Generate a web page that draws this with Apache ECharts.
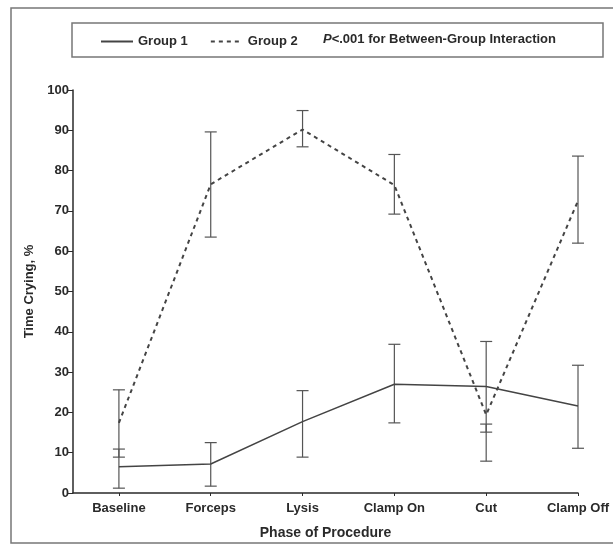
<!DOCTYPE html>
<html>
<head>
<meta charset="utf-8">
<script src="https://cdn.jsdelivr.net/npm/echarts@6/dist/echarts.min.js"></script>
<style>html,body{margin:0;padding:0;background:#fff}#c{width:613px;height:546px}</style>
</head>
<body>
<div id="c"></div>
<script>
const categories = ['Baseline', 'Forceps', 'Lysis', 'Clamp On', 'Cut', 'Clamp Off'];
const yTicks = [0, 10, 20, 30, 40, 50, 60, 70, 80, 90, 100];
const group1Mean = [6.5, 7.2, 17.7, 27.0, 26.4, 21.6];
const group1Low  = [1.2, 1.7, 8.9, 17.4, 15.1, 11.1];
const group1High = [10.9, 12.5, 25.4, 36.9, 37.6, 31.7];
const group2Mean = [17.4, 76.6, 90.2, 76.4, 19.4, 72.5];
const group2Low  = [8.9, 63.5, 85.9, 69.2, 7.9, 62.0];
const group2High = [25.6, 89.6, 94.9, 84.0, 17.1, 83.6];

const FONT = '"Liberation Sans", Arial, sans-serif';
const INK = '#2a2a2a';

function pts(arr) { return arr.map((v, i) => [i, v]); }
function bars(lo, hi) { return lo.map((v, i) => [i, v, hi[i]]); }

function errRender(params, api) {
  const x = api.value(0);
  const p1 = api.coord([x, api.value(1)]);
  const p2 = api.coord([x, api.value(2)]);
  const hw = 6;
  const st = { stroke: '#555', lineWidth: 1.2 };
  return {
    type: 'group',
    children: [
      { type: 'line', shape: { x1: p1[0], y1: p1[1], x2: p2[0], y2: p2[1] }, style: st },
      { type: 'line', shape: { x1: p1[0] - hw, y1: p1[1], x2: p1[0] + hw, y2: p1[1] }, style: st },
      { type: 'line', shape: { x1: p2[0] - hw, y1: p2[1], x2: p2[0] + hw, y2: p2[1] }, style: st }
    ]
  };
}

const txt = (size) => ({ fontFamily: FONT, fontSize: size, fontWeight: 'bold', color: INK });

const chart = echarts.init(document.getElementById('c'));
chart.setOption({
  animation: false,
  backgroundColor: '#fff',
  textStyle: { fontFamily: FONT },
  grid: { left: 73, right: 35, top: 90, bottom: 53, containLabel: false },
  legend: {
    left: 95, top: 30, itemWidth: 32, itemHeight: 14, itemGap: 22,
    data: ['Group 1', 'Group 2'],
    textStyle: txt(13),
    itemStyle: { opacity: 0 },
    lineStyle: { opacity: 1 },
    selectedMode: false
  },
  xAxis: {
    type: 'value', min: -0.5, max: 5,
    name: 'Phase of Procedure', nameLocation: 'middle', nameGap: 33,
    nameTextStyle: txt(14),
    axisLine: { onZero: false, lineStyle: { color: INK, width: 1.5 } },
    axisTick: { show: true, length: 3, lineStyle: { color: INK }, customValues: [0, 1, 2, 3, 4, 5] },
    axisLabel: Object.assign({ customValues: [0, 1, 2, 3, 4, 5], formatter: v => categories[Math.round(v)], margin: 9 }, txt(13)),
    splitLine: { show: false }
  },
  yAxis: {
    type: 'value', min: 0, max: 100, interval: 10,
    name: 'Time Crying, %', nameLocation: 'middle', nameGap: 36, nameRotate: 90,
    nameTextStyle: txt(13),
    axisLine: { show: true, onZero: false, lineStyle: { color: INK, width: 1.5 } },
    axisTick: { show: true, length: 5, lineStyle: { color: INK } },
    axisLabel: Object.assign({ margin: 4, formatter: v => (yTicks.indexOf(v) >= 0 ? String(v) : '') }, txt(13)),
    splitLine: { show: false }
  },
  series: [
    { name: 'Group 1', type: 'line', data: pts(group1Mean), symbol: 'none',
      lineStyle: { color: '#444', width: 1.5, type: 'solid' }, itemStyle: { color: '#444' }, z: 3 },
    { name: 'Group 2', type: 'line', data: pts(group2Mean), symbol: 'none',
      lineStyle: { color: '#444', width: 2, type: [4, 4] }, itemStyle: { color: '#444' }, z: 3 },
    { type: 'custom', renderItem: errRender, data: bars(group1Low, group1High), z: 2, silent: true },
    { type: 'custom', renderItem: errRender, data: bars(group2Low, group2High), z: 2, silent: true }
  ],
  graphic: [
    { type: 'rect', shape: { x: 11, y: 8, width: 620, height: 535 },
      style: { fill: 'none', stroke: '#777', lineWidth: 1.5 }, silent: true, z: -1 },
    { type: 'rect', shape: { x: 72, y: 23, width: 531, height: 34 },
      style: { fill: 'none', stroke: '#777', lineWidth: 1.5 }, silent: true },
    { type: 'text', x: 323, y: 39,
      style: { text: '{i|P}{n|<.001 for Between-Group Interaction}', verticalAlign: 'middle',
        rich: { i: { fontStyle: 'italic', fontWeight: 'bold', fontFamily: FONT, fontSize: 13, fill: INK },
                n: { fontWeight: 'bold', fontFamily: FONT, fontSize: 13, fill: INK } } } }
  ]
});
</script>
</body>
</html>
